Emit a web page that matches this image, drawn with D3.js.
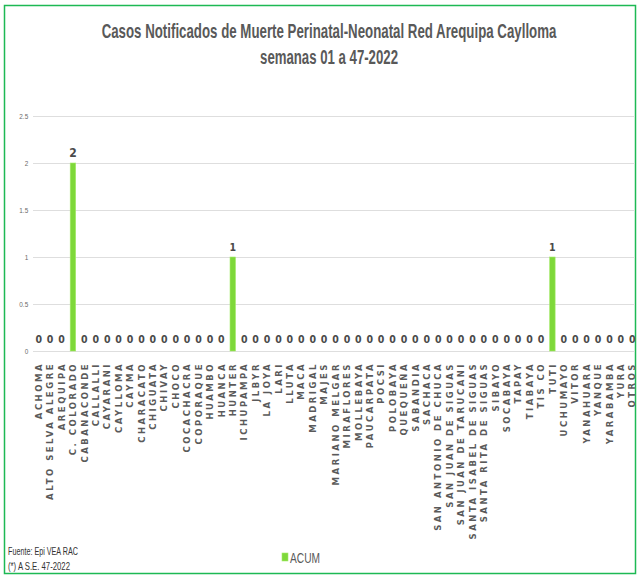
<!DOCTYPE html>
<html>
<head>
<meta charset="utf-8">
<script src="https://cdn.jsdelivr.net/npm/d3@7.9.0/dist/d3.min.js"></script>
<style>
  body { margin: 0; background: #fff; }
  svg { display: block; }
</style>
</head>
<body>
<div id="chart"></div>
<script>
// ---------- DATA ----------
const districts = [
  'ACHOMA', 'ALTO SELVA ALEGRE', 'AREQUIPA', 'C. COLORADO', 'CABANACONDE', 'CALLALLI',
  'CAYARANI', 'CAYLLOMA', 'CAYMA', 'CHARACATO', 'CHIGUATA', 'CHIVAY', 'CHOCO',
  'COCACHACRA', 'COPORAQUE', 'HUAMBO', 'HUANCA', 'HUNTER', 'ICHUPAMPA', 'JLBYR',
  'LA JOYA', 'LARI', 'LLUTA', 'MACA', 'MADRIGAL', 'MAJES', 'MARIANO MELGAR',
  'MIRAFLORES', 'MOLLEBAYA', 'PAUCARPATA', 'POCSI', 'POLOBAYA', 'QUEQUEÑA',
  'SABANDIA', 'SACHACA', 'SAN ANTONIO DE CHUCA', 'SAN JUAN DE SIGUAS',
  'SAN JUAN DE TARUCANI', 'SANTA ISABEL DE SIGUAS', 'SANTA RITA DE SIGUAS', 'SIBAYO',
  'SOCABAYA', 'TAPAY', 'TIABAYA', 'TIS CO', 'TUTI', 'UCHUMAYO', 'VITOR', 'YANAHUARA',
  'YANQUE', 'YARABAMBA', 'YURA', 'OTROS'
];
const acum = [
  0, 0, 0, 2, 0, 0, 0, 0, 0, 0, 0, 0, 0, 0, 0, 0, 0, 1, 0, 0, 0, 0, 0, 0, 0, 0, 0,
  0, 0, 0, 0, 0, 0, 0, 0, 0, 0, 0, 0, 0, 0, 0, 0, 0, 0, 1, 0, 0, 0, 0, 0, 0, 0
];
const yTicks = [0, 0.5, 1, 1.5, 2, 2.5];
const titleLines = ['Casos Notificados de Muerte Perinatal-Neonatal Red Arequipa Caylloma', 'semanas 01 a 47-2022'];
const footLines = ['Fuente: Epi VEA RAC', '(*) A S.E. 47-2022'];
const seriesName = 'ACUM';

const rows = districts.map((name, i) => ({ name, value: acum[i] }));

// ---------- LAYOUT ----------
const width = 640;
const height = 577;
const plot = { left: 33, right: 638, top: 116, bottom: 351 };
const sans = '"Liberation Sans", Arial, sans-serif';
const green = '#7ed83a';

const svg = d3.select('#chart').append('svg')
  .attr('width', width)
  .attr('height', height);

svg.append('rect')
  .attr('x', 4.5).attr('y', 5.5)
  .attr('width', 631).attr('height', 568)
  .attr('fill', '#fff')
  .attr('stroke', '#1db954')
  .attr('stroke-width', 1.5);

// fake a narrow font: draw at x=0 and squeeze horizontally to a target width
function narrowText(g, str, { x, y, size, weight = 'normal', fill, target, anchor = 'start' }) {
  const t = g.append('text')
    .attr('font-family', sans)
    .attr('font-size', size)
    .attr('font-weight', weight)
    .attr('fill', fill)
    .attr('text-anchor', anchor)
    .text(str);
  const w = t.node().getComputedTextLength();
  const k = target / w;
  t.attr('transform', `translate(${x},${y}) scale(${k},1)`);
  return t;
}

// ---------- TITLE ----------
const titleG = svg.append('g');
narrowText(titleG, titleLines[0], { x: 329, y: 38, size: 20, weight: 'bold', fill: '#595959', target: 455, anchor: 'middle' });
narrowText(titleG, titleLines[1], { x: 329, y: 64, size: 20, weight: 'bold', fill: '#595959', target: 138, anchor: 'middle' });

// ---------- SCALES ----------
const x = d3.scaleBand()
  .domain(districts)
  .range([plot.left, plot.right])
  .paddingInner(0.5)
  .paddingOuter(0.25);

const y = d3.scaleLinear()
  .domain([0, 2.5])
  .range([plot.bottom, plot.top]);

// ---------- GRID + Y AXIS ----------
const yAxis = svg.append('g')
  .attr('transform', `translate(${plot.left},0)`)
  .call(d3.axisLeft(y).tickValues(yTicks).tickSize(-(plot.right - plot.left - 3)).tickPadding(6)
    .tickFormat((d) => String(d)));
yAxis.select('.domain').remove();
yAxis.selectAll('.tick line').attr('stroke', '#dedede').attr('stroke-width', 1);
yAxis.selectAll('.tick text')
  .attr('fill', '#6b6b6b')
  .attr('font-family', sans)
  .attr('font-size', 8)
  .attr('transform', 'scale(0.8,1)');

// ---------- BARS ----------
const bw = 5.5;
svg.append('g').selectAll('rect')
  .data(rows.filter((d) => d.value > 0))
  .join('rect')
  .attr('x', (d) => x(d.name) + x.bandwidth() / 2 - bw / 2)
  .attr('y', (d) => y(d.value))
  .attr('width', bw)
  .attr('height', (d) => y(0) - y(d.value))
  .attr('fill', green)
  .attr('stroke', '#a6ec6a')
  .attr('stroke-width', 0.6);

// ---------- VALUE LABELS ----------
svg.append('g').selectAll('text')
  .data(rows)
  .join('text')
  .attr('x', (d) => x(d.name) + x.bandwidth() / 2)
  .attr('y', (d) => (d.value > 0 ? y(d.value) - 6 : y(0) - 8))
  .attr('text-anchor', 'middle')
  .attr('font-family', '"DejaVu Sans Condensed", "DejaVu Sans", sans-serif')
  .attr('font-weight', 'bold')
  .attr('font-size', (d) => (d.value > 1 ? 12 : 10.5))
  .attr('fill', '#4a4a4a')
  .text((d) => d.value);

// ---------- X LABELS ----------
svg.append('g').selectAll('text')
  .data(districts)
  .join('text')
  .attr('transform', (d) => `translate(${x(d) + x.bandwidth() / 2 + 3.2},362) rotate(-90)`)
  .attr('text-anchor', 'end')
  .attr('font-family', '"DejaVu Sans", Verdana, sans-serif')
  .attr('font-weight', 'bold')
  .attr('font-size', 8.5)
  .attr('letter-spacing', 2.5)
  .attr('fill', '#5a5a5a')
  .text((d) => d);

// ---------- FOOTER + LEGEND ----------
const footG = svg.append('g');
narrowText(footG, footLines[0], { x: 8, y: 555, size: 10, fill: '#333', target: 70 });
narrowText(footG, footLines[1], { x: 8, y: 570, size: 10, fill: '#333', target: 62 });

const legend = svg.append('g').attr('transform', 'translate(282,553)');
legend.append('rect')
  .attr('width', 6).attr('height', 8)
  .attr('fill', green)
  .attr('stroke', '#a6ec6a')
  .attr('stroke-width', 0.6);
narrowText(legend, seriesName, { x: 8, y: 9.5, size: 14, fill: '#595959', target: 30 });
</script>
</body>
</html>
